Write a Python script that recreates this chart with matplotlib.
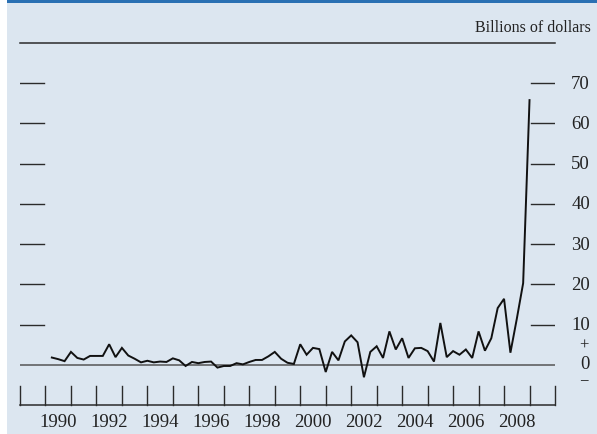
import matplotlib.pyplot as plt
from matplotlib.patches import Rectangle

# quarterly values, billions of dollars
start_year = 1990.25
values = [1.8, 1.4, 0.9, 3.2, 1.7, 1.3, 2.2, 2.2, 2.2, 5.1,
          1.9, 4.2, 2.3, 1.5, 0.6, 1.0, 0.6, 0.8, 0.7, 1.6,
          1.1, -0.3, 0.7, 0.4, 0.7, 0.8, -0.7, -0.3, -0.3, 0.4,
          0.1, 0.7, 1.2, 1.2, 2.1, 3.2, 1.5, 0.5, 0.2, 5.1,
          2.5, 4.2, 3.9, -1.8, 3.2, 1.1, 5.8, 7.3, 5.6, -3.1,
          3.2, 4.6, 1.7, 8.3, 3.8, 6.6, 1.7, 4.1, 4.2, 3.4,
          0.8, 10.4, 1.9, 3.4, 2.5, 3.8, 1.7, 8.3, 3.5, 6.6,
          14.1, 16.4, 3.0, 11.4, 20.3, 65.8]
years = [start_year + 0.25 * i for i in range(len(values))]

tick_years = list(range(1989, 2011))
label_years = list(range(1990, 2009, 2))
y_ticks = [10, 20, 30, 40, 50, 60, 70]

serif = ['Liberation Serif', 'DejaVu Serif']
dark = '#2b2b2b'
txt = '#222222'

fig = plt.figure(figsize=(5.97, 4.35), dpi=100, facecolor='white')
W, H = 597, 435

# panel background and top blue rule
fig.patches.append(Rectangle((7 / W, 0), 1 - 7 / W, 1, transform=fig.transFigure,
                             facecolor='#dce6f0', edgecolor='none', zorder=-2))
fig.patches.append(Rectangle((7 / W, 1 - 4 / H), 1 - 7 / W, 3 / H, transform=fig.transFigure,
                             facecolor='#2a70b3', edgecolor='none', zorder=-1))

ax = fig.add_axes([20 / W, 29 / H, 535 / W, 362 / H])
ax.set_zorder(5)
ax.set_xlim(1989, 2010)
ax.set_ylim(-10, 80)
ax.patch.set_visible(False)
ax.axis('off')

# frame lines
ax.plot([1989, 2010], [80, 80], color=dark, lw=1.1, clip_on=False)
ax.plot([1989, 2010], [-10, -10], color=dark, lw=1.1, clip_on=False)
ax.axhline(0, color='#555555', lw=1.1, zorder=1)

# year ticks
for yr in tick_years:
    ax.plot([yr, yr], [-10, -5.3], color=dark, lw=1.0, clip_on=False)
for yr in label_years:
    ax.text(yr + 0.5, -14, str(yr), ha='center', va='center',
            fontsize=13.5, family=serif, color=txt, clip_on=False)

# value ticks on both sides
seg = 24 / 535 * 21
for v in y_ticks:
    ax.plot([1989, 1989 + seg], [v, v], color=dark, lw=1.0)
    ax.plot([2010 - seg, 2010], [v, v], color=dark, lw=1.0)
    ax.annotate(str(v), xy=(1.0654, v), xycoords=('axes fraction', 'data'),
                ha='right', va='center', fontsize=13.5, family=serif, color=txt)
ax.annotate('0', xy=(1.0654, 0.3), xycoords=('axes fraction', 'data'),
            ha='right', va='center', fontsize=13.5, family=serif, color=txt)
ax.annotate('+', xy=(1.0533, 5.0), xycoords=('axes fraction', 'data'),
            ha='center', va='center', fontsize=12, family=serif, color=txt)
ax.annotate('\u2212', xy=(1.0533, -3.9), xycoords=('axes fraction', 'data'),
            ha='center', va='center', fontsize=12, family=serif, color=txt)

# data
ax.plot(years, values, color='#111111', lw=1.4, zorder=3, solid_joinstyle='miter')

fig.text(591 / W, 1 - 28 / H, 'Billions of dollars', ha='right', va='center',
         fontsize=11.5, family=serif, color=txt)

fig.savefig('out.png', dpi=100, facecolor=fig.get_facecolor())
